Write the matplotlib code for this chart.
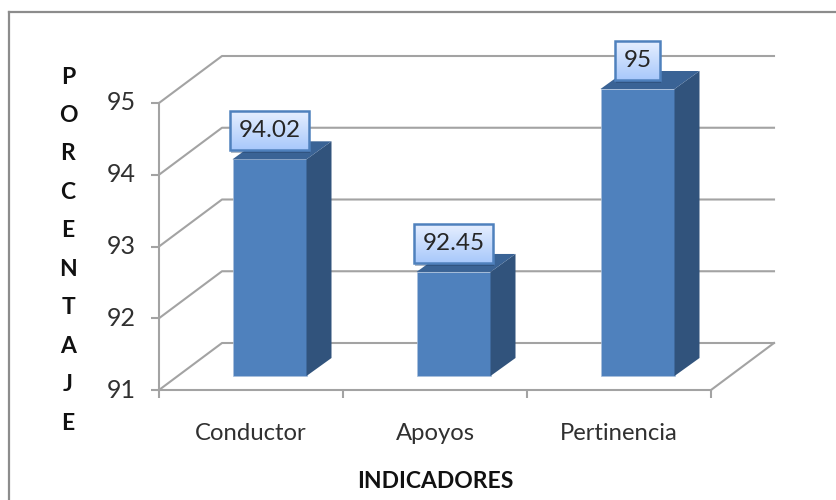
import matplotlib
matplotlib.use("Agg")
import matplotlib.pyplot as plt
import numpy as np
from matplotlib.patches import Rectangle

categories = ["Conductor", "Apoyos", "Pertinencia"]
values = [94.02, 92.45, 95]
value_labels = ["94.02", "92.45", "95"]
y_ticks = [91, 92, 93, 94, 95]
y_title = "PORCENTAJE"
x_title = "INDICADORES"

W, H = 836, 500
AX_L, AX_R, AX_B, AX_T = 159, 711, 390, 103  # pixels
GRID = "#a3a3a3"
FRONT = "#4f81bd"
SIDE = "#31537c"
TOP = "#3a6395"
TEXT = "#303030"

plt.rcParams["font.family"] = ["Lato", "DejaVu Sans"]

fig = plt.figure(figsize=(W / 100, H / 100), dpi=100, facecolor="white")
ax = fig.add_axes([AX_L / W, 1 - AX_B / H, (AX_R - AX_L) / W, (AX_B - AX_T) / H])
ax.set_xlim(0, 3)
ax.set_ylim(91, 95)
ax.patch.set_visible(False)

# size of one pixel in data units
px = 3 / (AX_R - AX_L)
py = 4 / (AX_B - AX_T)

# outer chart frame, only top and left show in the crop
fig.add_artist(plt.Line2D([9 / W, 9 / W], [0, 1 - 12 / H], color="#8c8c8c", lw=1.6))
fig.add_artist(plt.Line2D([9 / W, 1], [1 - 12 / H, 1 - 12 / H], color="#8c8c8c", lw=1.6))

# back wall gridlines, depth lines and floor
dx, dy = 63 * px, 47 * py
for t in y_ticks:
    ax.plot([0, dx, 3 + dx], [t, t + dy, t + dy], color=GRID, lw=1.5, clip_on=False, zorder=1)
ax.plot([3, 3 + dx], [91, 91 + dy], color=GRID, lw=1.5, clip_on=False, zorder=1)

for name in ["top", "right"]:
    ax.spines[name].set_visible(False)
for name in ["left", "bottom"]:
    ax.spines[name].set_color(GRID)
    ax.spines[name].set_linewidth(1.5)

ax.set_yticks(y_ticks)
ax.set_xticks([0, 1, 2, 3])
ax.set_xticklabels([])
ax.tick_params(axis="both", color=GRID, width=1.5, length=6, labelsize=18, labelcolor=TEXT)
ax.tick_params(axis="y", pad=11)
for lab in ax.get_yticklabels():
    lab.set_verticalalignment("center")

x = np.arange(len(categories)) + 0.5
for xi, name in zip(x, categories):
    ax.text(xi, 91 - 44 * py, name, ha="center", va="center", fontsize=17.2, color=TEXT, clip_on=False)

# bars: front face is moved into the floor, side and top faces go back from it
shift_x, shift_y = 18.5 * px, 14 * py
bar_w = 74 * px
side_x, side_y = 25 * px, 18 * py
ax.bar(x + shift_x, np.array(values) - 91, bottom=91 + shift_y, width=bar_w, color=FRONT,
       edgecolor="#a9c0dc", linewidth=0.5, zorder=3, clip_on=False)

for xi, v in zip(x + shift_x, values):
    left, right = xi - bar_w / 2, xi + bar_w / 2
    top = v + shift_y
    ax.fill([right, right + side_x, right + side_x, right],
            [91 + shift_y, 91 + shift_y + side_y, top + side_y, top],
            color=SIDE, lw=0, zorder=3, clip_on=False)
    ax.fill([left, left + side_x, right + side_x, right],
            [top, top + side_y, top + side_y, top],
            color=TOP, lw=0, zorder=3, clip_on=False)

# value labels: pale blue gradient boxes with a soft shadow
gradient = np.linspace(0, 1, 64).reshape(-1, 1)
cmap = matplotlib.colors.LinearSegmentedColormap.from_list("box", ["#e6efff", "#a8c8fb"])
renderer = fig.canvas.get_renderer()
for xi, v, label in zip(x + shift_x, values, value_labels):
    cy = v + shift_y + 28.5 * py
    t = ax.text(xi, cy, label, ha="center", va="center", fontsize=17.5, color="#262626",
                zorder=8, clip_on=False)
    half_w = (t.get_window_extent(renderer).width / 2 + 8) * px
    half_h = 19.5 * py
    ax.add_patch(Rectangle((xi - half_w + 1 * px, cy - half_h - 3 * py), 2 * half_w, 2 * half_h,
                           color="#1f3a5c", alpha=0.35, lw=0, zorder=5, clip_on=False))
    im = ax.imshow(gradient, cmap=cmap, aspect="auto", zorder=6,
                   extent=[xi - half_w, xi + half_w, cy - half_h, cy + half_h])
    box = Rectangle((xi - half_w, cy - half_h), 2 * half_w, 2 * half_h, fc="none",
                    ec=FRONT, lw=1.8, zorder=7, clip_on=False)
    ax.add_patch(box)
    im.set_clip_path(box)

ax.set_xlim(0, 3)
ax.set_ylim(91, 95)

# titles
for letter, ypos in zip(y_title, np.linspace(77, 423, len(y_title))):
    fig.text(68 / W, 1 - ypos / H, letter, ha="center", va="center", fontsize=16.5,
             fontweight="bold", color="#111111")
fig.text(435 / W, 1 - 482 / H, x_title, ha="center", va="center", fontsize=16.5,
         fontweight="bold", color="#111111")

fig.savefig("out.png", dpi=100)
